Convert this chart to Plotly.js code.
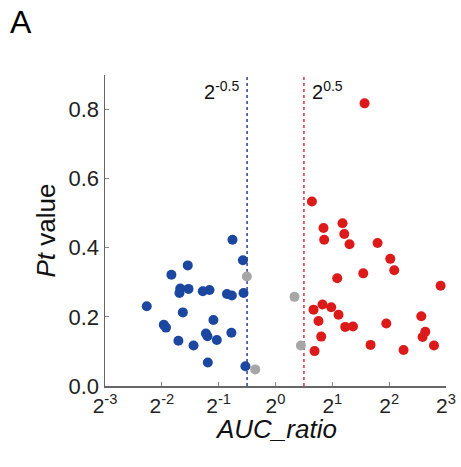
<!DOCTYPE html>
<html>
<head>
<meta charset="utf-8">
<script src="https://cdn.plot.ly/plotly-3.0.1.min.js"></script>
<style>html,body{margin:0;padding:0;background:#fff;}#chart{width:461px;height:467px;}</style>
</head>
<body>
<div id="chart"></div>
<script>
// AUC ratio (x) and Pt value (y) per group
const blueAUC = [0.592,0.672,0.343,0.281,0.313,0.310,0.346,0.412,0.447,0.553,0.587,0.677,0.208,0.323,0.256,0.263,0.469,0.306,0.368,0.428,0.436,0.489,0.584,0.438,0.693];
const bluePt  = [0.423,0.364,0.349,0.322,0.282,0.269,0.281,0.274,0.278,0.266,0.262,0.269,0.231,0.213,0.177,0.169,0.191,0.131,0.117,0.152,0.144,0.133,0.154,0.068,0.057];
const redAUC = [2.963,1.559,1.796,2.265,2.313,1.811,2.467,3.472,4.054,4.257,2.916,2.123,7.49,1.590,1.774,1.973,2.157,1.690,2.341,2.572,3.861,5.918,1.746,6.214,6.013,3.188,4.769,6.911,1.610];
const redPt  = [0.818,0.534,0.457,0.471,0.440,0.423,0.410,0.414,0.368,0.335,0.326,0.312,0.290,0.221,0.236,0.228,0.206,0.188,0.171,0.172,0.181,0.202,0.143,0.157,0.142,0.119,0.104,0.117,0.101];
const grayAUC = [0.705,0.781,1.261,1.363];
const grayPt  = [0.317,0.048,0.258,0.117];
const thresholds = [Math.pow(2,-0.5), Math.pow(2,0.5)];
const thresholdLabels = ["2<sup>-0.5</sup>", "2<sup>0.5</sup>"];
const xTickVals = [0.125,0.25,0.5,1,2,4,8];
const xTickText = ["2<sup>-3</sup>","2<sup>-2</sup>","2<sup>-1</sup>","2<sup>0</sup>","2<sup>1</sup>","2<sup>2</sup>","2<sup>3</sup>"];
const yRange = [0, 0.9];

const FONT = "Liberation Sans, Arial, sans-serif";
const mk = (c) => ({size: 10, color: c, line: {width: 0}});
const traces = [
  {x: [thresholds[0], thresholds[0]], y: yRange, mode: 'lines', line: {color: '#2a3f9a', width: 1.5, dash: 'dot'}, hoverinfo: 'skip'},
  {x: [thresholds[1], thresholds[1]], y: yRange, mode: 'lines', line: {color: '#e0303c', width: 1.5, dash: 'dot'}, hoverinfo: 'skip'},
  {x: grayAUC, y: grayPt, mode: 'markers', marker: mk('#a6a6a6')},
  {x: blueAUC, y: bluePt, mode: 'markers', marker: mk('#1b47a0')},
  {x: redAUC, y: redPt, mode: 'markers', marker: mk('#dd1a1a')}
];
const axisCommon = {showgrid: false, zeroline: false, showline: true, linecolor: '#666', linewidth: 1.5,
  ticks: 'inside', ticklen: 4, tickcolor: '#888', tickwidth: 1};
const layout = {
  width: 461, height: 467, showlegend: false,
  paper_bgcolor: '#fff', plot_bgcolor: '#fff',
  margin: {l: 105, r: 15, t: 75, b: 81},
  font: {family: FONT},
  xaxis: Object.assign({}, axisCommon, {type: 'log', range: [Math.log10(0.125), Math.log10(8)],
    tickvals: xTickVals, ticktext: xTickText, automargin: false,
    tickfont: {family: FONT, size: 21, color: '#222'}}),
  yaxis: Object.assign({}, axisCommon, {range: yRange, dtick: 0.2, tick0: 0, tickformat: '.1f', automargin: false,
    tickfont: {family: FONT, size: 22, color: '#222'},
    title: {text: '<i>Pt</i> value', font: {family: FONT, size: 26, color: '#111'}, standoff: 5}}),
  annotations: [
    {text: 'A', xref: 'paper', yref: 'paper', x: -0.285, y: 1.235, xanchor: 'left', yanchor: 'top', showarrow: false, font: {family: FONT, size: 32, color: '#000'}},
    {text: '<i>AUC_ratio</i>', xref: 'paper', yref: 'paper', x: 0.5, y: 0, xanchor: 'center', yanchor: 'middle', yshift: -43, showarrow: false, font: {family: FONT, size: 26, color: '#111'}},
    {text: thresholdLabels[0], xref: 'x', yref: 'paper', x: Math.log10(thresholds[0]), y: 1.0, xanchor: 'right', yanchor: 'top', xshift: -6, yshift: -1, showarrow: false, font: {family: FONT, size: 20, color: '#111'}},
    {text: thresholdLabels[1], xref: 'x', yref: 'paper', x: Math.log10(thresholds[1]), y: 1.0, xanchor: 'left', yanchor: 'top', xshift: 6, yshift: -1, showarrow: false, font: {family: FONT, size: 20, color: '#111'}}
  ]
};
Plotly.newPlot('chart', traces, layout, {staticPlot: true, displayModeBar: false});
</script>
</body>
</html>
